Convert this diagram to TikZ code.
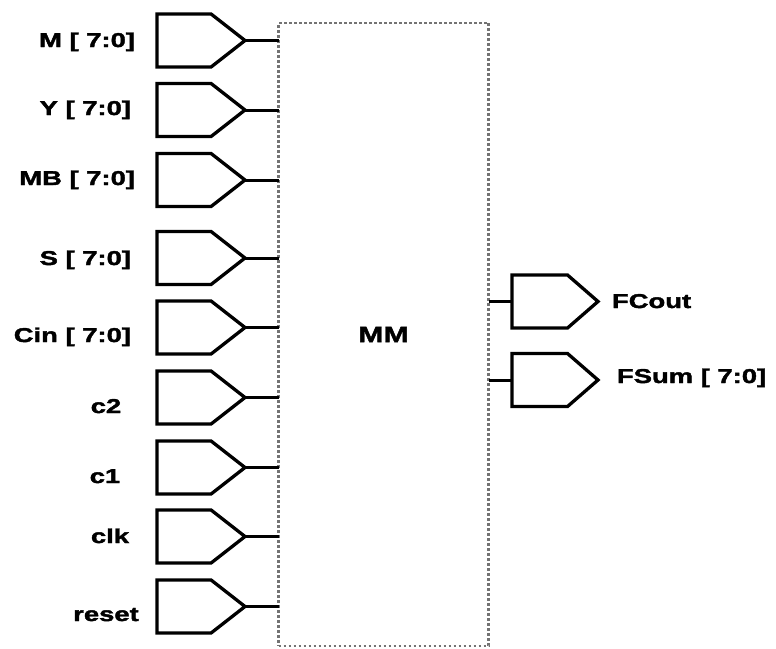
\documentclass[tikz,border=0pt]{standalone}
\usepackage{fontspec}
\setmainfont[FakeStretch=1.37,BoldFeatures={FakeBold=2}]{Liberation Sans}
\usetikzlibrary{shapes.symbols}
\definecolor{dotgray}{RGB}{115,115,115}
\begin{document}
\begin{tikzpicture}[x=1pt,y=-1pt,
  inpin/.style={draw, line width=3.3pt, signal, signal to=east, signal from=nowhere,
    signal pointer angle=76, minimum width=88pt, minimum height=53pt,
    inner sep=0pt, outer sep=0pt, anchor=west},
  outpin/.style={inpin, signal pointer angle=82, minimum width=86pt},
  lab/.style={font=\fontsize{20}{24}\selectfont\bfseries, inner sep=0pt, outer sep=0pt},
  wire/.style={line width=3pt},
  dotbox/.style={draw=dotgray, line width=2.8pt, dash pattern=on 2.8pt off 2.2pt,
    minimum width=210pt, minimum height=623pt, inner sep=0pt, outer sep=0pt,
    font=\fontsize{22}{26}\selectfont\bfseries}]
\useasboundingbox (0,0) rectangle (776,648);
% main block
\node[dotbox] (mm) at (383.5,334.5) {MM};
% input pins
\node[inpin] (p1) at (157,40.5) {};
\node[inpin] (p2) at (157,110) {};
\node[inpin] (p3) at (157,180) {};
\node[inpin] (p4) at (157,258) {};
\node[inpin] (p5) at (157,327.5) {};
\node[inpin] (p6) at (157,397.5) {};
\node[inpin] (p7) at (157,467.5) {};
\node[inpin] (p8) at (157,536.5) {};
\node[inpin] (p9) at (157,606.5) {};
\foreach \p in {p1,p2,p3,p4,p5,p6,p7,p8,p9}{
  \draw[wire] (\p.east) -- (\p.east -| mm.west);
}
% input labels
\node[lab, anchor=base east] (l1) at (135,47) {M [ 7:0]};
\node[lab, anchor=base east] (l2) at (131,115) {Y [ 7:0]};
\node[lab, anchor=base east] (l3) at (135,185) {MB [ 7:0]};
\node[lab, anchor=base east] (l4) at (131,265) {S [ 7:0]};
\node[lab, anchor=base east] (l5) at (131,342) {Cin [ 7:0]};
\node[lab, anchor=base] (l6) at (106,413) {c2};
\node[lab, anchor=base] (l7) at (105,483) {c1};
\node[lab, anchor=base] (l8) at (110,543) {clk};
\node[lab, anchor=base] (l9) at (106,621) {reset};
% output pins
\node[outpin] (o1) at (512,301.5) {};
\node[outpin] (o2) at (512,380) {};
\draw[wire] (o1.west) -- (o1.west -| mm.east);
\draw[wire] (o2.west) -- (o2.west -| mm.east);
\node[lab, anchor=base west] (f1) at (612,308) {FCout};
\node[lab, anchor=base west] (f2) at (617,383) {FSum [ 7:0]};
\end{tikzpicture}
\end{document}
